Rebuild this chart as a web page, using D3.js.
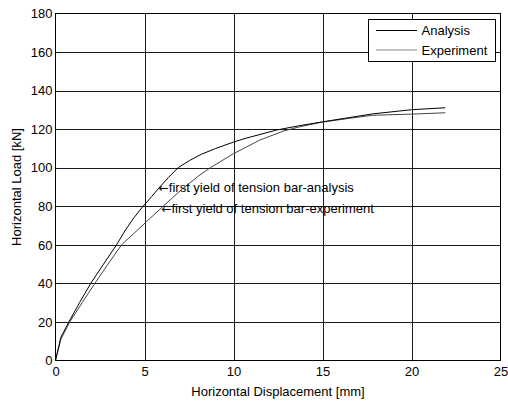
<!DOCTYPE html>
<html>
<head>
<meta charset="utf-8">
<script src="https://cdn.jsdelivr.net/npm/d3@7"></script>
<style>
  html, body { margin: 0; padding: 0; background: #fff; }
  svg { display: block; }
  text { font-family: "Liberation Sans", Arial, sans-serif; fill: #000; }
</style>
</head>
<body>
<svg id="chart" width="508" height="401"></svg>
<script>
// ---- data ----
const analysisX = [0, 0.3, 0.75, 1.35, 1.98, 2.7, 3.43, 3.93, 4.4, 4.92, 5.4, 5.86, 6.35, 6.89, 7.54, 8.2, 9.0, 10.0, 10.7, 12.4, 13.7, 15.0, 16.5, 17.8, 20.0, 21.9];
const analysisY = [0, 12, 20, 30, 40, 50, 60, 67.7, 74, 80, 85, 90, 95, 100, 103.8, 107, 110, 113.3, 115.3, 119.5, 121.8, 123.8, 126, 127.9, 130.1, 131.1];
const experimentX = [0, 0.3, 0.8, 1.5, 2.21, 2.95, 3.71, 4.4, 5.11, 6.05, 7.0, 8.0, 8.7, 10.0, 10.7, 11.47, 12.8, 13.7, 15.0, 16.5, 17.8, 20.0, 21.9];
const experimentY = [0, 11, 20, 30, 40, 50, 60, 65.9, 72, 80, 88, 95.5, 100, 107.3, 110.6, 114.3, 119.0, 121.2, 123.7, 125.6, 127.2, 127.8, 128.5];
const xTicks = [0, 5, 10, 15, 20, 25];
const yTicks = [0, 20, 40, 60, 80, 100, 120, 140, 160, 180];
const seriesNames = ["Analysis", "Experiment"];
const annotations = [
  { x: 5.8, y: 89.8, text: "first yield of tension bar-analysis" },
  { x: 5.95, y: 79.0, text: "first yield of tension bar-experiment" }
];

// ---- layout ----
const FS = 13;
const svg = d3.select("#chart");
const L = 55.5, R = 500.5, T = 13.5, B = 360.5;
const x = d3.scaleLinear().domain([0, 25]).range([L, R]);
const y = d3.scaleLinear().domain([0, 180]).range([B, T]);

// grid
const grid = svg.append("g");
grid.selectAll("line.vx").data(xTicks.slice(1, -1)).enter().append("line")
  .attr("x1", d => Math.round(x(d)) + 0.5).attr("x2", d => Math.round(x(d)) + 0.5)
  .attr("y1", T).attr("y2", B).attr("stroke", "#1a1a1a").attr("stroke-width", 1);
grid.selectAll("line.hy").data(yTicks.slice(1, -1)).enter().append("line")
  .attr("y1", d => Math.round(y(d)) + 0.5).attr("y2", d => Math.round(y(d)) + 0.5)
  .attr("x1", L).attr("x2", R).attr("stroke", "#1a1a1a").attr("stroke-width", 1);

// axes
const xAxis = d3.axisBottom(x).tickValues(xTicks).tickSize(0).tickPadding(6).tickFormat(d3.format("d"));
const yAxis = d3.axisLeft(y).tickValues(yTicks).tickSize(0).tickPadding(3).tickFormat(d3.format("d"));
const gx = svg.append("g").attr("transform", `translate(0,${B})`).call(xAxis);
const gy = svg.append("g").attr("transform", `translate(${L},0)`).call(yAxis);
[gx, gy].forEach(g => {
  g.select(".domain").remove();
  g.selectAll("text").attr("font-size", FS).attr("font-family", "Liberation Sans, Arial, sans-serif").attr("fill", "#000");
});

// box
svg.append("rect").attr("x", L).attr("y", T).attr("width", R - L).attr("height", B - T)
  .attr("fill", "none").attr("stroke", "#000").attr("stroke-width", 1);

// series
const line = d3.line().x(d => x(d[0])).y(d => y(d[1]));
const aData = analysisX.map((v, i) => [v, analysisY[i]]);
const eData = experimentX.map((v, i) => [v, experimentY[i]]);
svg.append("path").datum(eData).attr("d", line).attr("fill", "none").attr("stroke", "#444").attr("stroke-width", 1);
svg.append("path").datum(aData).attr("d", line).attr("fill", "none").attr("stroke", "#000").attr("stroke-width", 1);

// annotations
const ann = svg.selectAll("text.ann").data(annotations).enter().append("text")
  .attr("x", d => x(d.x)).attr("y", d => y(d.y)).attr("dy", "0.35em")
  .attr("font-size", FS);
ann.append("tspan").attr("font-family", "DejaVu Sans").attr("font-size", 12).text("\u2190");
ann.append("tspan").text(d => d.text);

// legend
const lg = svg.append("g");
lg.append("rect").attr("x", 368.5).attr("y", 19.5).attr("width", 127).attr("height", 42)
  .attr("fill", "#fff").attr("stroke", "#000").attr("stroke-width", 1);
const legColors = ["#000", "#888"];
seriesNames.forEach((n, i) => {
  const yy = 30.5 + i * 19.5;
  lg.append("line").attr("x1", 376).attr("x2", 417).attr("y1", yy).attr("y2", yy)
    .attr("stroke", legColors[i]).attr("stroke-width", 1);
  lg.append("text").attr("x", 421.5).attr("y", yy).attr("dy", "0.35em").attr("font-size", FS).text(n);
});

// axis titles
svg.append("text").attr("x", (L + R) / 2).attr("y", 391).attr("dy", "0.35em")
  .attr("text-anchor", "middle").attr("font-size", FS).text("Horizontal Displacement [mm]");
svg.append("text").attr("transform", `translate(16,${(T + B) / 2}) rotate(-90)`).attr("dy", "0.35em")
  .attr("text-anchor", "middle").attr("font-size", FS).text("Horizontal Load [kN]");
</script>
</body>
</html>
